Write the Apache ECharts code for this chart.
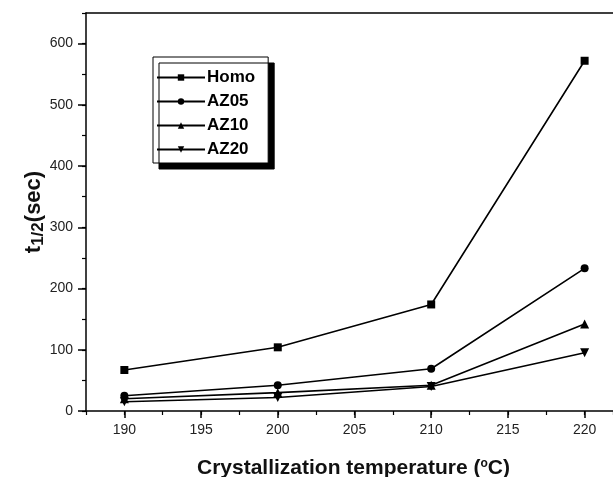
<!DOCTYPE html>
<html>
<head>
<meta charset="utf-8">
<script src="https://cdn.jsdelivr.net/npm/echarts@6/dist/echarts.min.js"></script>
<style>
  html, body { margin: 0; padding: 0; background: #fff; }
  #chart { width: 613px; height: 477px; }
</style>
</head>
<body>
<div id="chart"></div>
<script>
// Half-time of crystallization vs. crystallization temperature
const temperatures = [190, 200, 210, 220];
const seriesNames = ['Homo', 'AZ05', 'AZ10', 'AZ20'];
const homo = [67, 104, 174, 572];
const az05 = [25, 42, 69, 233];
const az10 = [20, 30, 42, 142];
const az20 = [15, 22, 40, 95];
const xTickLabels = [190, 195, 200, 205, 210, 215, 220];
const yTickLabels = [0, 100, 200, 300, 400, 500, 600];

const seriesValues = [homo, az05, az10, az20];
const markers = ['rect', 'circle', 'triangle', 'path://M0,0 L10,0 L5,9 Z'];
const markerSizes = [8, 8, 9, 9];

const X_MIN = 187.5, X_MAX = 221.85;

const labelFont = {
  fontFamily: '"Liberation Sans Narrow", "Liberation Sans", Arial, sans-serif',
  fontSize: 14,
  color: '#222'
};

const chart = echarts.init(document.getElementById('chart'));

chart.setOption({
  animation: false,
  backgroundColor: '#fff',
  grid: { left: 86, top: 13, right: 0, bottom: 66, show: false, outerBoundsMode: 'none', containLabel: false },
  legend: {
    orient: 'vertical',
    left: 153, top: 57,
    padding: [12, 13, 5, 3],
    itemGap: 7,
    itemWidth: 48, itemHeight: 8,
    backgroundColor: '#fff',
    borderColor: '#000', borderWidth: 1,
    shadowColor: '#000', shadowBlur: 0, shadowOffsetX: 6, shadowOffsetY: 6,
    textStyle: { fontFamily: 'Arial, "Liberation Sans", sans-serif', fontWeight: 'bold', fontSize: 17, color: '#000', padding: [0, 0, 0, -3] },
    data: seriesNames
  },
  xAxis: [
    {
      type: 'value', min: X_MIN, max: X_MAX,
      name: 'Crystallization temperature ({s|o}C)',
      nameLocation: 'middle', nameGap: 47, nameMoveOverlap: false,
      nameTextStyle: {
        fontFamily: 'Arial, "Liberation Sans", sans-serif', fontWeight: 'bold', fontSize: 21, color: '#111',
        padding: [0, 0, 0, 8],
        rich: { s: { fontFamily: 'Arial, sans-serif', fontWeight: 'bold', fontSize: 12, color: '#111', verticalAlign: 'top', padding: [0, 0, 9, 0] } }
      },
      axisLine: { lineStyle: { color: '#000', width: 1.5 } },
      axisTick: { inside: false, length: 7, lineStyle: { color: '#000', width: 1.5 }, customValues: xTickLabels },
      axisLabel: Object.assign({ margin: 12, customValues: xTickLabels }, labelFont),
      splitLine: { show: false }
    },
    {
      type: 'value', min: X_MIN, max: X_MAX, interval: 2.5, position: 'bottom',
      axisLine: { show: false },
      axisTick: { inside: false, length: 4, lineStyle: { color: '#000', width: 1.2 } },
      axisLabel: { show: false },
      splitLine: { show: false }
    },
    {
      // top frame line
      type: 'value', min: X_MIN, max: X_MAX, position: 'top',
      axisLine: { lineStyle: { color: '#000', width: 1.5 } },
      axisTick: { show: false },
      axisLabel: { show: false },
      splitLine: { show: false }
    }
  ],
  yAxis: [
    {
      type: 'value', min: 0, max: 650,
      name: 't{sub|1/2}(sec)',
      nameLocation: 'middle', nameGap: 39, nameRotate: 90, nameMoveOverlap: false,
      nameTextStyle: {
        fontFamily: 'Arial, "Liberation Sans", sans-serif', fontWeight: 'bold', fontSize: 22, color: '#111',
        rich: { sub: { fontFamily: 'Arial, sans-serif', fontWeight: 'bold', fontSize: 17, color: '#111', verticalAlign: 'bottom', padding: [9, 0, 0, 0] } }
      },
      axisLine: { lineStyle: { color: '#000', width: 1.5 } },
      axisTick: { inside: false, length: 8, lineStyle: { color: '#000', width: 1.5 }, customValues: yTickLabels },
      axisLabel: Object.assign({ margin: 13, customValues: yTickLabels }, labelFont),
      splitLine: { show: false }
    },
    {
      type: 'value', min: 0, max: 650, interval: 50, position: 'left',
      axisLine: { show: false },
      axisTick: { inside: false, length: 4, lineStyle: { color: '#000', width: 1.2 } },
      axisLabel: { show: false },
      splitLine: { show: false }
    }
  ],
  series: seriesNames.map((name, i) => ({
    name: name,
    type: 'line',
    xAxisIndex: 0, yAxisIndex: 0,
    data: temperatures.map((t, j) => [t, seriesValues[i][j]]),
    symbol: markers[i],
    symbolSize: markerSizes[i],
    showAllSymbol: true,
    itemStyle: { color: '#000' },
    lineStyle: { color: '#000', width: 1.6 },
    z: 3
  }))
});
</script>
</body>
</html>
